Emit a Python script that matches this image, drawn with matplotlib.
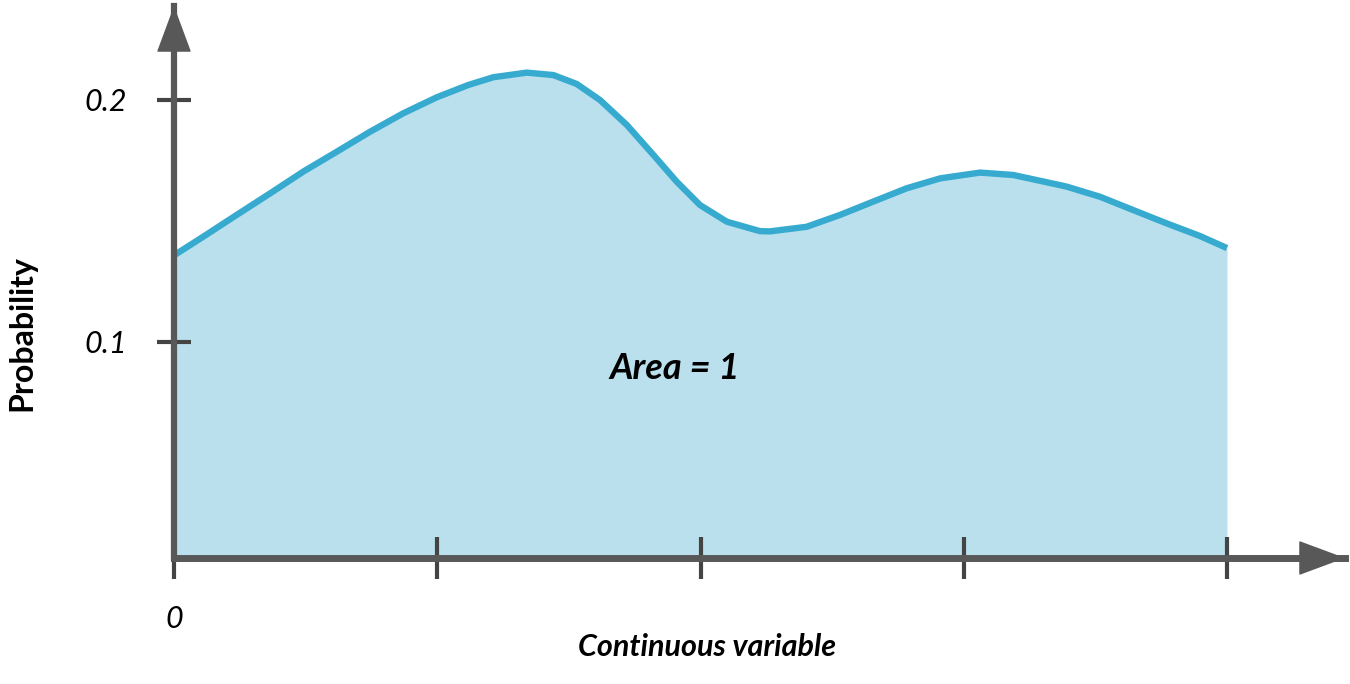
import matplotlib
matplotlib.use("Agg")
import matplotlib.pyplot as plt

plt.rcParams['font.family'] = ['Lato', 'DejaVu Sans']

# curve (x in tick units, y = probability)
xs = [0.0, 0.111, 0.238, 0.365, 0.491, 0.618, 0.745, 0.871, 0.998, 1.118,
      1.213, 1.340, 1.441, 1.530, 1.618, 1.720, 1.821, 1.910, 1.998, 2.100,
      2.226, 2.264, 2.403, 2.530, 2.656, 2.783, 2.910, 3.062, 3.188, 3.290,
      3.391, 3.518, 3.644, 3.771, 3.897, 4.0]
ys = [0.1356, 0.1433, 0.1523, 0.1612, 0.1702, 0.1784, 0.1867, 0.1943, 0.2009, 0.2060,
      0.2092, 0.2111, 0.2101, 0.2064, 0.1998, 0.1895, 0.1771, 0.1660, 0.1564, 0.1495,
      0.1456, 0.1455, 0.1474, 0.1523, 0.1578, 0.1633, 0.1674, 0.1698, 0.1688, 0.1664,
      0.1640, 0.1598, 0.1543, 0.1488, 0.1436, 0.1386]
x_ticks = [0, 1, 2, 3, 4]
x_ticklabels = ['0', '', '', '', '']
y_ticks = [0.1, 0.2]
y_ticklabels = ['0.1', '0.2']

axis_col = '#585858'
line_col = '#37abcf'
fill_col = '#bae0ee'

W, H = 1350, 684
px_per_x = 263.25
px_per_y = 2420.0
x0_px, y0_px = 174, 583.5     # where x=0 / y=0 sit in pixels
xax_px, tip_x_px, tip_y_px = 558, 1345, 6

y_bottom = (y0_px - xax_px) / px_per_y
y_top = (y0_px - tip_y_px) / px_per_y
x_right = (tip_x_px - x0_px) / px_per_x

fig = plt.figure(figsize=(W / 100, H / 100), dpi=100)
ax = fig.add_axes([x0_px / W, (H - xax_px) / H,
                   (tip_x_px - x0_px) / W, (xax_px - tip_y_px) / H])
ax.set_xlim(0, x_right)
ax.set_ylim(y_bottom, y_top)

ax.fill_between(xs, ys, 0, color=fill_col, lw=0, zorder=1)
ax.plot(xs, ys, color=line_col, lw=4.6, solid_capstyle='butt',
        solid_joinstyle='round', zorder=2)

for s in ['top', 'right']:
    ax.spines[s].set_visible(False)
ax.spines['left'].set_color(axis_col)
ax.spines['left'].set_linewidth(4.5)
ax.spines['bottom'].set_color(axis_col)
ax.spines['bottom'].set_linewidth(5)

ax.set_xticks(x_ticks)
ax.set_xticklabels(x_ticklabels)
ax.set_yticks(y_ticks)
ax.set_yticklabels(y_ticklabels)
ax.tick_params(axis='x', direction='inout', length=30, width=3, color='#444444',
               pad=19, labelsize=22)
ax.tick_params(axis='y', direction='inout', length=25, width=3, color='#444444',
               pad=21, labelsize=22)
for lab in ax.get_xticklabels() + ax.get_yticklabels():
    lab.set_fontstyle('italic')

# arrow heads at the ends of both axes
head = '-|>,head_length=31,head_width=11.5'
ax.annotate('', xy=(x_right, y_bottom), xytext=(x_right - 0.3, y_bottom),
            arrowprops=dict(arrowstyle=head, color=axis_col, lw=1, mutation_scale=1,
                            shrinkA=0, shrinkB=0), annotation_clip=False)
ax.annotate('', xy=(0, y_top), xytext=(0, y_top - 0.03),
            arrowprops=dict(arrowstyle=head, color=axis_col, lw=1, mutation_scale=1,
                            shrinkA=0, shrinkB=0), annotation_clip=False)

ax.set_xlabel('Continuous variable', fontsize=22, fontweight='bold',
              fontstyle='italic', va='center')
ax.xaxis.set_label_coords(2.025 / x_right, (xax_px - 647) / (xax_px - tip_y_px))
ax.set_ylabel('Probability', fontsize=23, fontweight='bold', va='center')
ax.yaxis.set_label_coords((22 - x0_px) / (tip_x_px - x0_px),
                          (xax_px - 333) / (xax_px - tip_y_px))

ax.text(1.903, 0.089, 'Area = 1', fontsize=26, fontweight='bold',
        fontstyle='italic', ha='center', va='center')

fig.savefig('out.png', dpi=100)
